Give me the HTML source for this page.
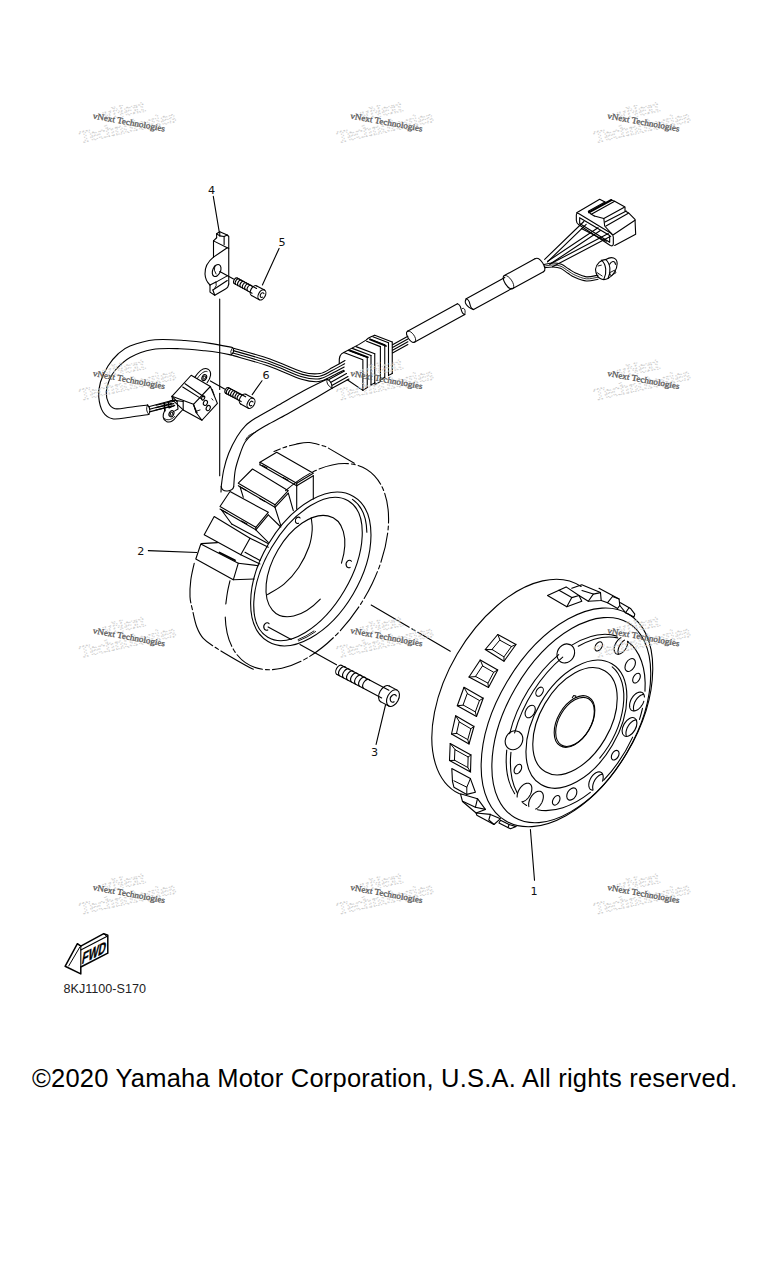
<!DOCTYPE html>
<html><head><meta charset="utf-8">
<style>
html,body{margin:0;padding:0;background:#fff;}
body{width:768px;height:1280px;position:relative;overflow:hidden;font-family:"Liberation Sans",sans-serif;}
#copy{position:absolute;left:32px;top:1060.9px;font-size:25.5px;line-height:34px;letter-spacing:0.22px;color:#000;white-space:nowrap;}
svg{position:absolute;left:0;top:0;}
</style></head><body>
<svg width="768" height="1280" viewBox="0 0 768 1280" fill="none" stroke="#000" stroke-width="1" stroke-linecap="round" stroke-linejoin="round">
<path d="M628.37,613.94A120.3,69.7 -59.3 0 1 626.88,752.96A120.3,69.7 -59.3 0 1 505.53,820.82A120.3,69.7 -59.3 0 1 507.02,681.8A120.3,69.7 -59.3 0 1 628.37,613.94Z" stroke-width="1.1" />
<path d="M581.12,586.54A120.3,69.7 -59.3 0 0 496.94,605.73A120.3,69.7 -59.3 0 0 434.52,712.08A120.3,69.7 -59.3 0 0 459.45,793.84" stroke-width="1.1" />
<path d="M627.99,622.7A112.7,64.4 -59.8 0 1 626.96,752.49A112.7,64.4 -59.8 0 1 514.61,817.5A112.7,64.4 -59.8 0 1 515.64,687.71A112.7,64.4 -59.8 0 1 627.99,622.7Z" stroke-width="1.1" />
<path d="M642.46,708.31A96.4,57.36 -59.6 0 1 639.5,719.38" stroke-width="1.1" />
<path d="M632.67,737.14A96.4,57.36 -59.6 0 1 603.7,780.14" stroke-width="1.1" />
<path d="M590.34,792.35A96.4,57.36 -59.6 0 1 537.51,809.71" stroke-width="1.1" />
<path d="M526.62,805.47A96.4,57.36 -59.6 0 1 522.64,802.68" stroke-width="1.1" />
<path d="M514.71,793.72A96.4,57.36 -59.6 0 1 506.75,750.09" stroke-width="1.1" />
<path d="M509.66,733.63A96.4,57.36 -59.6 0 1 558.71,654.56" stroke-width="1.1" />
<path d="M571.87,645.11A96.4,57.36 -59.6 0 1 617.05,636.1" stroke-width="1.1" />
<path d="M627.43,641.3A96.4,57.36 -59.6 0 1 644.97,691.12" stroke-width="1.1" />
<path d="M617.72,637.88A96.1,57.18 -59.6 0 0 578.27,646.27" stroke-width="1.1" />
<path d="M562.73,657.1A96.1,57.18 -59.6 0 0 514.62,732.88" stroke-width="1.1" />
<path d="M510.94,752.34A96.1,57.18 -59.6 0 0 517.11,792.83" stroke-width="1.1" />
<path d="M627.85,641.73 L627.84,642.14 L627.81,642.57 L627.77,643 L627.71,643.44 L627.63,643.88 L627.53,644.33 L627.41,644.78 L627.27,645.23 L627.12,645.69 L626.95,646.14 L626.77,646.59 L626.57,647.04 L626.35,647.49 L626.12,647.93 L625.88,648.36 L625.62,648.79 L625.35,649.2 L625.06,649.61 L624.77,650 L624.47,650.38 L624.15,650.75 L623.83,651.11 L623.5,651.45 L623.16,651.77 L622.82,652.07 L622.47,652.36 L622.12,652.63 L621.76,652.88 L621.41,653.11 L621.05,653.32 L620.69,653.5 L620.33,653.67 L619.98,653.81 L619.62,653.93 L619.27,654.03 L618.93,654.1 L618.59,654.15 L618.26,654.17 L617.93,654.18 L617.62,654.15 L617.31,654.11 L617.01,654.04 L616.73,653.95 L616.45,653.83 L616.19,653.69 L615.94,653.53 L615.71,653.35 L615.49,653.15 L615.28,652.92 L615.09,652.67 L614.92,652.41 L614.76,652.12 L614.63,651.82 L614.5,651.5 L614.4,651.17 L614.31,650.81 L614.25,650.45 L614.2,650.07 L614.17,649.68 L614.15,649.27 L614.16,648.86 L614.19,648.43 L614.23,648 L614.29,647.56 L614.37,647.12 L614.47,646.67 L614.59,646.22 L614.73,645.77 L614.88,645.31 L615.05,644.86 L615.23,644.41 L615.43,643.96 L615.65,643.51 L615.88,643.07 L616.12,642.64 L616.38,642.21 L616.65,641.8 L616.94,641.39 L617.23,641 L617.53,640.62 L617.85,640.25 L618.17,639.89 L618.5,639.55 L618.84,639.23 L619.18,638.93 L619.53,638.64 L619.88,638.37 L620.24,638.12 L620.59,637.89 L620.95,637.68" stroke-width="1.1" />
<path d="M618.51,654.1 L618.38,653.78 L618.28,653.44 L618.19,653.09 L618.13,652.72 L618.08,652.34 L618.05,651.95 L618.03,651.55 L618.04,651.13 L618.07,650.71 L618.11,650.28 L618.17,649.84 L618.26,649.4 L618.35,648.95 L618.47,648.5 L618.61,648.04 L618.76,647.59 L618.93,647.13 L619.11,646.68 L619.31,646.23 L619.53,645.79 L619.76,645.35 L620.01,644.92 L620.26,644.49 L620.54,644.08 L620.82,643.67 L621.11,643.28 L621.42,642.89 L621.73,642.52 L622.05,642.17 L622.38,641.83 L622.72,641.51 L623.06,641.2 L623.41,640.92 L623.76,640.65 L624.12,640.4 L624.47,640.17" stroke-width="1.1" />
<path d="M643.8,701.21 L643.64,701.7 L643.45,702.2 L643.25,702.69 L643.04,703.17 L642.8,703.66 L642.55,704.13 L642.29,704.6 L642.01,705.06 L641.71,705.51 L641.41,705.95 L641.09,706.38 L640.76,706.79 L640.42,707.19 L640.07,707.58 L639.71,707.95 L639.34,708.3 L638.97,708.63 L638.59,708.94 L638.21,709.23 L637.83,709.5 L637.44,709.75 L637.05,709.97 L636.66,710.18 L636.28,710.36 L635.89,710.51 L635.51,710.64 L635.13,710.74 L634.76,710.82 L634.39,710.88 L634.03,710.91 L633.68,710.91 L633.33,710.88 L633,710.83 L632.68,710.76 L632.37,710.66 L632.07,710.53 L631.79,710.38 L631.52,710.21 L631.26,710.01 L631.03,709.79 L630.8,709.54 L630.6,709.28 L630.41,708.99 L630.24,708.68 L630.09,708.35 L629.96,708.01 L629.84,707.64 L629.75,707.26 L629.68,706.86 L629.62,706.45 L629.59,706.03 L629.58,705.59 L629.58,705.14 L629.61,704.68 L629.66,704.21 L629.73,703.74 L629.82,703.26 L629.92,702.77 L630.05,702.28 L630.2,701.79 L630.36,701.3 L630.55,700.8 L630.75,700.31 L630.96,699.83 L631.2,699.34 L631.45,698.87 L631.71,698.4 L631.99,697.94 L632.29,697.49 L632.59,697.05 L632.91,696.62 L633.24,696.21 L633.58,695.81 L633.93,695.42 L634.29,695.05 L634.66,694.7 L635.03,694.37 L635.41,694.06 L635.79,693.77 L636.17,693.5 L636.56,693.25 L636.95,693.03 L637.34,692.82 L637.72,692.64 L638.11,692.49 L638.49,692.36 L638.87,692.26 L639.24,692.18 L639.61,692.12 L639.97,692.09 L640.32,692.09 L640.67,692.12 L641,692.17 L641.32,692.24 L641.63,692.34 L641.93,692.47 L642.21,692.62 L642.48,692.79 L642.74,692.99 L642.97,693.21 L643.2,693.46 L643.4,693.72 L643.59,694.01 L643.76,694.32 L643.91,694.65 L644.04,694.99 L644.16,695.36 L644.25,695.74 L644.32,696.14 L644.38,696.55 L644.41,696.97" stroke-width="1.1" />
<path d="M633.97,710.63 L633.84,710.28 L633.72,709.92 L633.63,709.54 L633.56,709.14 L633.5,708.73 L633.47,708.3 L633.46,707.87 L633.47,707.42 L633.49,706.96 L633.54,706.49 L633.61,706.01 L633.7,705.53 L633.81,705.05 L633.93,704.56 L634.08,704.07 L634.24,703.57 L634.43,703.08 L634.63,702.59 L634.85,702.1 L635.08,701.62 L635.33,701.15 L635.6,700.68 L635.88,700.22 L636.17,699.76 L636.48,699.32 L636.79,698.9 L637.12,698.48 L637.46,698.08 L637.81,697.7 L638.17,697.33 L638.54,696.98 L638.91,696.65 L639.29,696.34 L639.67,696.05 L640.05,695.78 L640.44,695.53 L640.83,695.3 L641.22,695.1 L641.61,694.92 L641.99,694.77 L642.37,694.64 L642.75,694.53 L643.13,694.45 L643.49,694.4" stroke-width="1.1" />
<path d="M634.71,718.12A10.3,6.13 -59.6 0 1 634.79,730.1A10.3,6.13 -59.6 0 1 624.29,735.88A10.3,6.13 -59.6 0 1 624.21,723.9A10.3,6.13 -59.6 0 1 634.71,718.12Z" stroke-width="1.1" />
<path d="M626.47,736.13 L626.34,735.78 L626.22,735.42 L626.13,735.04 L626.06,734.64 L626,734.23 L625.97,733.8 L625.96,733.37 L625.97,732.92 L625.99,732.46 L626.04,731.99 L626.11,731.51 L626.2,731.03 L626.31,730.55 L626.43,730.06 L626.58,729.57 L626.74,729.07 L626.93,728.58 L627.13,728.09 L627.35,727.6 L627.58,727.12 L627.83,726.65 L628.1,726.18 L628.38,725.72 L628.67,725.26 L628.98,724.82 L629.29,724.4 L629.62,723.98 L629.96,723.58 L630.31,723.2 L630.67,722.83 L631.04,722.48 L631.41,722.15 L631.79,721.84 L632.17,721.55 L632.55,721.28 L632.94,721.03 L633.33,720.8 L633.72,720.6 L634.11,720.42 L634.49,720.27 L634.87,720.14 L635.25,720.03 L635.63,719.95 L635.99,719.9" stroke-width="1.1" />
<path d="M592.77,790.13 L592.44,790.11 L592.12,790.06 L591.8,789.99 L591.5,789.89 L591.22,789.77 L590.94,789.63 L590.68,789.46 L590.43,789.26 L590.2,789.05 L589.98,788.81 L589.78,788.55 L589.6,788.27 L589.44,787.97 L589.29,787.65 L589.16,787.32 L589.05,786.96 L588.96,786.59 L588.89,786.21 L588.84,785.81 L588.81,785.4 L588.79,784.97 L588.8,784.53 L588.83,784.09 L588.87,783.63 L588.94,783.17 L589.03,782.71 L589.13,782.23 L589.25,781.76 L589.4,781.28 L589.56,780.8 L589.73,780.32 L589.93,779.85 L590.14,779.38 L590.37,778.91 L590.61,778.44 L590.87,777.99 L591.14,777.54 L591.43,777.1 L591.72,776.68 L592.03,776.26 L592.35,775.86 L592.68,775.47 L593.02,775.1 L593.37,774.74 L593.72,774.4 L594.09,774.08 L594.45,773.78 L594.82,773.49 L595.2,773.23 L595.57,772.99 L595.95,772.77 L596.33,772.58 L596.7,772.4 L597.08,772.25 L597.45,772.13 L597.82,772.02 L598.18,771.95 L598.54,771.9 L598.89,771.87 L599.23,771.87 L599.56,771.89 L599.88,771.94 L600.2,772.01 L600.5,772.11 L600.78,772.23 L601.06,772.37 L601.32,772.54 L601.57,772.74 L601.8,772.95 L602.02,773.19 L602.22,773.45 L602.4,773.73 L602.56,774.03 L602.71,774.35 L602.84,774.68 L602.95,775.04 L603.04,775.41 L603.11,775.79 L603.16,776.19 L603.19,776.6 L603.21,777.03 L603.2,777.47 L603.17,777.91 L603.13,778.37 L603.06,778.83 L602.97,779.29 L602.87,779.77 L602.75,780.24 L602.6,780.72 L602.44,781.2" stroke-width="1.1" />
<path d="M593.04,789.6 L592.93,789.24 L592.84,788.87 L592.77,788.49 L592.72,788.09 L592.69,787.67 L592.67,787.25 L592.68,786.81 L592.71,786.37 L592.76,785.91 L592.82,785.45 L592.91,784.98 L593.01,784.51 L593.13,784.03 L593.28,783.56 L593.44,783.08 L593.61,782.6 L593.81,782.13 L594.02,781.65 L594.25,781.18 L594.49,780.72 L594.75,780.27 L595.02,779.82 L595.31,779.38 L595.6,778.95 L595.91,778.54 L596.23,778.14 L596.56,777.75 L596.9,777.38 L597.25,777.02 L597.61,776.68 L597.97,776.36 L598.33,776.05 L598.7,775.77 L599.08,775.51 L599.45,775.27 L599.83,775.05 L600.21,774.85 L600.58,774.68 L600.96,774.53 L601.33,774.4 L601.7,774.3 L602.06,774.23 L602.42,774.17" stroke-width="1.1" />
<path d="M528.91,806.58 L528.82,806.21 L528.75,805.81 L528.69,805.4 L528.66,804.98 L528.65,804.55 L528.66,804.1 L528.68,803.65 L528.73,803.19 L528.8,802.72 L528.89,802.24 L528.99,801.76 L529.12,801.27 L529.26,800.79 L529.43,800.3 L529.61,799.81 L529.81,799.33 L530.02,798.84 L530.25,798.37 L530.5,797.89 L530.77,797.43 L531.04,796.97 L531.33,796.53 L531.64,796.09 L531.95,795.67 L532.28,795.26 L532.62,794.86 L532.96,794.48 L533.32,794.12 L533.68,793.77 L534.05,793.44 L534.42,793.13 L534.8,792.84 L535.18,792.58 L535.56,792.33 L535.95,792.11 L536.33,791.91 L536.72,791.73 L537.1,791.58 L537.48,791.45 L537.85,791.35 L538.22,791.27 L538.59,791.21 L538.94,791.19 L539.29,791.18 L539.63,791.21 L539.96,791.26 L540.28,791.33 L540.59,791.43 L540.88,791.55 L541.16,791.7 L541.43,791.88 L541.68,792.07 L541.92,792.29 L542.14,792.53 L542.34,792.8 L542.53,793.08 L542.69,793.39 L542.84,793.71 L542.98,794.06 L543.09,794.42 L543.18,794.79 L543.25,795.19 L543.31,795.6 L543.34,796.02 L543.35,796.45 L543.34,796.9 L543.32,797.35 L543.27,797.81 L543.2,798.28 L543.11,798.76 L543.01,799.24 L542.88,799.73 L542.74,800.21 L542.57,800.7 L542.39,801.19 L542.19,801.67 L541.98,802.16 L541.75,802.63 L541.5,803.11 L541.23,803.57 L540.96,804.03 L540.67,804.47 L540.36,804.91 L540.05,805.33 L539.72,805.74 L539.38,806.14 L539.04,806.52 L538.68,806.88 L538.32,807.23 L537.95,807.56 L537.58,807.87 L537.2,808.16 L536.82,808.42 L536.44,808.67 L536.05,808.89 L535.67,809.09" stroke-width="1.1" />
<path d="M517.16,796.98 L517.15,796.55 L517.16,796.1 L517.18,795.65 L517.23,795.19 L517.3,794.72 L517.39,794.24 L517.49,793.76 L517.62,793.27 L517.76,792.79 L517.93,792.3 L518.11,791.81 L518.31,791.33 L518.52,790.84 L518.75,790.37 L519,789.89 L519.27,789.43 L519.54,788.97 L519.83,788.53 L520.14,788.09 L520.45,787.67 L520.78,787.26 L521.12,786.86 L521.46,786.48 L521.82,786.12 L522.18,785.77 L522.55,785.44 L522.92,785.13 L523.3,784.84 L523.68,784.58 L524.06,784.33 L524.45,784.11 L524.83,783.91 L525.22,783.73 L525.6,783.58 L525.98,783.45 L526.35,783.35 L526.72,783.27 L527.09,783.21 L527.44,783.19 L527.79,783.18 L528.13,783.21 L528.46,783.26 L528.78,783.33 L529.09,783.43 L529.38,783.55 L529.66,783.7 L529.93,783.88 L530.18,784.07 L530.42,784.29 L530.64,784.53 L530.84,784.8 L531.03,785.08 L531.19,785.39 L531.34,785.71 L531.48,786.06 L531.59,786.42 L531.68,786.79 L531.75,787.19 L531.81,787.6 L531.84,788.02 L531.85,788.45 L531.84,788.9 L531.82,789.35 L531.77,789.81 L531.7,790.28 L531.61,790.76 L531.51,791.24 L531.38,791.73 L531.24,792.21 L531.07,792.7 L530.89,793.19 L530.69,793.67 L530.48,794.16 L530.25,794.63 L530,795.11 L529.73,795.57 L529.46,796.03 L529.17,796.47 L528.86,796.91 L528.55,797.33 L528.22,797.74 L527.88,798.14 L527.54,798.52 L527.18,798.88 L526.82,799.23 L526.45,799.56 L526.08,799.87 L525.7,800.16 L525.32,800.42 L524.94,800.67 L524.55,800.89 L524.17,801.09 L523.78,801.27 L523.4,801.42 L523.02,801.55 L522.65,801.65 L522.28,801.73 L521.91,801.79" stroke-width="1.1" />
<path d="M570.79,644.89 C571.29,645.43 573.14,646.84 573.77,648.17 C574.41,649.5 574.73,651.27 574.62,652.85 C574.5,654.44 573.93,656.26 573.1,657.68 C572.26,659.1 570.95,660.49 569.62,661.36 C568.29,662.24 566.59,662.82 565.12,662.91 C563.65,663 562.02,662.63 560.81,661.91 C559.59,661.2 558.46,659.96 557.83,658.63 C557.19,657.3 556.87,655.53 556.98,653.95 C557.1,652.36 557.67,650.54 558.5,649.12 C559.34,647.7 560.65,646.31 561.98,645.44 C563.31,644.56 565.01,643.98 566.48,643.89 C567.95,643.8 570.07,644.72 570.79,644.89Z" stroke-width="1.1" />
<path d="M518.99,731.69 C519.49,732.23 521.34,733.64 521.97,734.97 C522.61,736.3 522.93,738.07 522.82,739.65 C522.7,741.24 522.13,743.06 521.3,744.48 C520.46,745.9 519.15,747.29 517.82,748.16 C516.49,749.04 514.79,749.62 513.32,749.71 C511.85,749.8 510.22,749.43 509.01,748.71 C507.79,748 506.66,746.76 506.03,745.43 C505.39,744.1 505.07,742.33 505.18,740.75 C505.3,739.16 505.87,737.34 506.7,735.92 C507.54,734.5 508.85,733.11 510.18,732.24 C511.51,731.36 513.21,730.78 514.68,730.69 C516.15,730.6 518.27,731.52 518.99,731.69Z" stroke-width="1.1" />
<path d="M601.13,642.09A5,3.2 -59.6 0 1 601.36,648.02A5,3.2 -59.6 0 1 596.07,650.71A5,3.2 -59.6 0 1 595.84,644.78A5,3.2 -59.6 0 1 601.13,642.09Z" stroke-width="1.1" />
<path d="M633.74,658.96A7,4.5 -59.6 0 1 634.08,667.28A7,4.5 -59.6 0 1 626.66,671.04A7,4.5 -59.6 0 1 626.32,662.72A7,4.5 -59.6 0 1 633.74,658.96Z" stroke-width="1.1" />
<path d="M639.18,673.53A5.3,3.2 -59.6 0 1 639.26,679.72A5.3,3.2 -59.6 0 1 633.82,682.67A5.3,3.2 -59.6 0 1 633.74,676.48A5.3,3.2 -59.6 0 1 639.18,673.53Z" stroke-width="1.1" />
<path d="M542.13,687.39A5,3.2 -59.6 0 1 542.36,693.32A5,3.2 -59.6 0 1 537.07,696.01A5,3.2 -59.6 0 1 536.84,690.08A5,3.2 -59.6 0 1 542.13,687.39Z" stroke-width="1.1" />
<path d="M533.64,705.63A6.8,4.4 -59.6 0 1 534,713.73A6.8,4.4 -59.6 0 1 526.76,717.37A6.8,4.4 -59.6 0 1 526.4,709.27A6.8,4.4 -59.6 0 1 533.64,705.63Z" stroke-width="1.1" />
<path d="M617.83,750.71A5.2,3.3 -59.6 0 1 618.05,756.87A5.2,3.3 -59.6 0 1 612.57,759.69A5.2,3.3 -59.6 0 1 612.35,753.53A5.2,3.3 -59.6 0 1 617.83,750.71Z" stroke-width="1.1" />
<path d="M520.53,764.51A5.2,3.2 -59.6 0 1 520.66,770.62A5.2,3.2 -59.6 0 1 515.27,773.49A5.2,3.2 -59.6 0 1 515.14,767.38A5.2,3.2 -59.6 0 1 520.53,764.51Z" stroke-width="1.1" />
<path d="M575.14,788.31A6.6,4.4 -59.6 0 1 575.6,796.23A6.6,4.4 -59.6 0 1 568.46,799.69A6.6,4.4 -59.6 0 1 568,791.77A6.6,4.4 -59.6 0 1 575.14,788.31Z" stroke-width="1.1" />
<path d="M558.83,795.81A5.2,3.2 -59.6 0 1 558.96,801.92A5.2,3.2 -59.6 0 1 553.57,804.79A5.2,3.2 -59.6 0 1 553.44,798.68A5.2,3.2 -59.6 0 1 558.83,795.81Z" stroke-width="1.1" />
<path d="M611.82,663.82A70,41.65 -59.6 0 1 612.32,745.28A70,41.65 -59.6 0 1 540.98,784.58A70,41.65 -59.6 0 1 540.48,703.12A70,41.65 -59.6 0 1 611.82,663.82Z" stroke-width="1.1" />
<path d="M612.21,666.82A67.8,40.34 -59.6 0 1 623.18,706.48A67.8,40.34 -59.6 0 1 599.73,758.15" stroke-width="1.1" />
<path d="M604.65,670.71A58.6,34.87 -59.6 0 1 605.07,738.89A58.6,34.87 -59.6 0 1 545.35,771.79A58.6,34.87 -59.6 0 1 544.93,703.61A58.6,34.87 -59.6 0 1 604.65,670.71Z" stroke-width="1.1" />
<path d="M588.77,697.18A28.2,16.78 -59.6 0 1 588.97,729.99A28.2,16.78 -59.6 0 1 560.23,745.82A28.2,16.78 -59.6 0 1 560.03,713.01A28.2,16.78 -59.6 0 1 588.77,697.18Z" stroke-width="1.1" />
<path d="M588.56,698.78A26.8,15.95 -59.6 0 1 588.75,729.97A26.8,15.95 -59.6 0 1 561.44,745.02A26.8,15.95 -59.6 0 1 561.25,713.83A26.8,15.95 -59.6 0 1 588.56,698.78Z" stroke-width="1.1" />
<path d="M572.3,697.8 L573.7,695.5 L575.9,696 L575.6,697.3" stroke-width="1.1" />
<path d="M497.75,634.5 L516,644.5 L504,661.25 L485.25,649.5 Z" stroke-width="1.1" />
<path d="M500.09,640.32 L511.4,646.52 L503.96,656.9 L492.34,649.62 Z" stroke-width="1" />
<path d="M497.75,634.5 L500.09,640.32" stroke-width="1" />
<path d="M516,644.5 L511.4,646.52" stroke-width="1" />
<path d="M504,661.25 L503.96,656.9" stroke-width="1" />
<path d="M485.25,649.5 L492.34,649.62" stroke-width="1" />
<path d="M480.25,660 L497.75,670 L488.5,687.5 L469,677 Z" stroke-width="1.1" />
<path d="M482.83,666.08 L493.68,672.28 L487.94,683.13 L475.85,676.62 Z" stroke-width="1" />
<path d="M480.25,660 L482.83,666.08" stroke-width="1" />
<path d="M497.75,670 L493.68,672.28" stroke-width="1" />
<path d="M488.5,687.5 L487.94,683.13" stroke-width="1" />
<path d="M469,677 L475.85,676.62" stroke-width="1" />
<path d="M464,687.3 L483.2,698.2 L476.5,716.5 L457.3,705.7 Z" stroke-width="1.1" />
<path d="M467.57,693.76 L479.48,700.52 L475.32,711.86 L463.42,705.17 Z" stroke-width="1" />
<path d="M464,687.3 L467.57,693.76" stroke-width="1" />
<path d="M483.2,698.2 L479.48,700.52" stroke-width="1" />
<path d="M476.5,716.5 L475.32,711.86" stroke-width="1" />
<path d="M457.3,705.7 L463.42,705.17" stroke-width="1" />
<path d="M455.7,715.7 L474,726.5 L469,744 L451.5,734 Z" stroke-width="1.1" />
<path d="M459.5,722.05 L470.85,728.75 L467.75,739.6 L456.9,733.4 Z" stroke-width="1" />
<path d="M455.7,715.7 L459.5,722.05" stroke-width="1" />
<path d="M474,726.5 L470.85,728.75" stroke-width="1" />
<path d="M469,744 L467.75,739.6" stroke-width="1" />
<path d="M451.5,734 L456.9,733.4" stroke-width="1" />
<path d="M450.2,743.5 L471,755 L470.5,772 L449.5,760.5 Z" stroke-width="1.1" />
<path d="M455.24,749.81 L468.13,756.94 L467.82,767.49 L454.8,760.36 Z" stroke-width="1" />
<path d="M450.2,743.5 L455.24,749.81" stroke-width="1" />
<path d="M471,755 L468.13,756.94" stroke-width="1" />
<path d="M470.5,772 L467.82,767.49" stroke-width="1" />
<path d="M449.5,760.5 L454.8,760.36" stroke-width="1" />
<path d="M451.8,768.6 L470.4,778.6 L475.4,792.2 L466.8,794.4 L453.9,787.2 L452.5,781.5 Z" stroke-width="1.1" />
<path d="M453.9,780.8 L466.8,787.2 L470.4,778.6" stroke-width="1" />
<path d="M466.8,787.2 L466.8,794.4" stroke-width="1" />
<path d="M547.5,595.5 L566.1,586.9 L579,595.5 L581.8,601.2 L566.8,606.7 Z" stroke-width="1.1" />
<path d="M559,590.2 L571.8,597.6 L579,595.5" stroke-width="1.1" />
<path d="M571.8,597.6 L566.8,606.7" stroke-width="1.1" />
<path d="M571.8,588.3 L581.8,584.7 L600.5,592.6 L601.2,600.5 L588.3,601.2 L579,595.5" stroke-width="1.1" />
<path d="M588.3,601.2 L593.3,594.1 L600.5,592.6" stroke-width="1.1" />
<path d="M582,590.5 L593.3,594.1" stroke-width="1.1" />
<path d="M599,588.3 L619.1,599.1 L619.8,605.5 L617.6,608.4 L607.6,602.7 L601.2,600.5" stroke-width="1.1" />
<path d="M607.6,602.7 L612.5,596.5 L619.1,599.1" stroke-width="1.1" />
<path d="M620.5,602.7 L630.5,608.4 L634.8,614.1 L634,617 L625.5,612.7 L619.8,605.5" stroke-width="1.1" />
<path d="M625.5,612.7 L629,607.8" stroke-width="1.1" />
<path d="M460.4,793.7 L477.5,798.7 L485.4,809.4 L476.1,813 L462.5,801.5 Z" stroke-width="1.1" />
<path d="M477.5,798.7 L475.4,807.3 L485.4,809.4" stroke-width="1.1" />
<path d="M475.4,807.3 L463.2,801.5" stroke-width="1.1" />
<path d="M476.1,813 L490.4,814.4 L500.5,818.7 L494,824.5 L476.8,815.2 Z" stroke-width="1.1" />
<path d="M490.4,814.4 L488.8,820 L494,824.5" stroke-width="1.1" />
<path d="M500.5,820.2 L509.1,824.5 L516.2,826.6 L510.5,828.8 L499,823 Z" stroke-width="1.1" />
<path d="M509.1,824.5 L508,827.6" stroke-width="1.1" />
<path d="M285.58,490.71A114.1,65.5 -58.5 0 1 374.52,475.87A114.1,65.5 -58.5 0 1 372.25,583.41A114.1,65.5 -58.5 0 1 281.83,668.28A114.1,65.5 -58.5 0 1 225.23,616" stroke-width="1.1" stroke-dasharray="30 3 4 3"/>
<path d="M354.3,463.3 L326,446.7  C323.22,446 314.3,442.92 309.3,442.5 C304.3,442.08 300.22,443.37 296,444.2 C291.78,445.03 287.67,446.28 284,447.5 C280.33,448.72 275.67,450.83 274,451.5" stroke-width="1.1" stroke-dasharray="30 3 4 3"/>
<path d="M194.2,563.3 C193.63,566.08 191.5,574.43 190.8,580 C190.1,585.57 189.72,591.7 190,596.7 C190.28,601.7 191.38,605 192.5,610 C193.62,615 194.9,621.98 196.7,626.7 C198.5,631.42 199.97,634.7 203.3,638.3 C206.63,641.9 209.75,643.85 216.7,648.3 C223.65,652.75 238.9,661.52 245,665 C251.1,668.48 251.92,668.5 253.3,669.2" stroke-width="1.1" stroke-dasharray="40 3 4 3"/>
<path d="M353.53,496.45A84.2,49.2 -59.5 0 1 353.19,593.97A84.2,49.2 -59.5 0 1 268.07,641.55A84.2,49.2 -59.5 0 1 268.41,544.03A84.2,49.2 -59.5 0 1 353.53,496.45Z" stroke-width="1.1" />
<path d="M348.2,500.76A79.2,42.3 -59.5 0 1 344.45,590.47A79.2,42.3 -59.5 0 1 267.8,637.24A79.2,42.3 -59.5 0 1 271.55,547.53A79.2,42.3 -59.5 0 1 348.2,500.76Z" stroke-width="1.1" />
<path d="M352.47,499.37A81.8,45.8 -59.5 0 1 366.86,532.18" stroke-width="1.1" />
<path d="M315.63,631.56A82.5,47 -59.5 0 1 298.43,640.91" stroke-width="0.9" />
<path d="M313.9,631.02A81.2,45.6 -59.5 0 1 298.08,639.59" stroke-width="0.9" />
<path d="M320.29,599.09A55.7,31.9 -59.5 0 1 272.4,610.12A55.7,31.9 -59.5 0 1 277.91,549.91A55.7,31.9 -59.5 0 1 327.91,515.9A55.7,31.9 -59.5 0 1 341.47,563.13" stroke-width="1.1" />
<path d="M311.2,517.5 C311.37,519.58 312.57,525.13 312.2,530 C311.83,534.87 311.25,540.45 309,546.7 C306.75,552.95 302.87,561.25 298.7,567.5 C294.53,573.75 289.22,579.68 284,584.2 C278.78,588.72 270.17,592.87 267.4,594.6" stroke-width="1.1" />
<path d="M299.42,517.26 a2.6,3.25 0 1 0 0.3,5.46" stroke-width="1.1" transform="rotate(20 297.6 519.6)"/>
<path d="M350.8,560.6 a3,3.75 0 1 0 0.3,6.3" stroke-width="1.1" transform="rotate(15 348.7 563.3)"/>
<path d="M268.5,623.1 a3,3.75 0 1 0 0.3,6.3" stroke-width="1.1" transform="rotate(15 266.4 625.8)"/>
<path d="M260,462.3 L276.7,452.3 L313.3,473.2 L296.7,483.2 Z" stroke-width="1.1" />
<path d="M260,464.8 L296.7,485.7 L313.3,475.7" stroke-width="1.1" />
<path d="M296.7,483.2 L296.7,485.7" stroke-width="1.1" />
<path d="M296.7,485.7 L296.7,509" stroke-width="1.1" />
<path d="M313.3,475.7 L313.3,499" stroke-width="1.1" />
<path d="M260,462.3 L260,464.8" stroke-width="1.1" />
<path d="M262.5,465.5 L267,468" stroke-width="1.1" />
<path d="M283,477.5 L288,480.3" stroke-width="1.1" />
<path d="M238.3,483.2 L252.5,469 L288.3,490.7 L275,504.8 Z" stroke-width="1.1" />
<path d="M238.3,485.7 L275,507.3 L288.3,493.2" stroke-width="1.1" />
<path d="M275,504.8 L275,507.3" stroke-width="1.1" />
<path d="M275,507.3 L280.8,525.7" stroke-width="1.1" />
<path d="M288.3,493.2 L293.3,510.7" stroke-width="1.1" />
<path d="M240,486.5 L243.3,497.3" stroke-width="1.1" />
<path d="M241,487.5 L246,490.3" stroke-width="1.1" />
<path d="M259.5,498.5 L265,501.5" stroke-width="1.1" />
<path d="M220,506.5 L230,491.5 L268.3,512.3 L255.8,527.3 Z" stroke-width="1.1" />
<path d="M220,509 L255.8,529.8 L268.3,514.8" stroke-width="1.1" />
<path d="M255.8,527.3 L255.8,529.8" stroke-width="1.1" />
<path d="M255.8,529.8 L268.3,542.3" stroke-width="1.1" />
<path d="M268.3,514.8 L280.8,527" stroke-width="1.1" />
<path d="M221.5,510 L231.7,524" stroke-width="1.1" />
<path d="M231.7,524 L268,543.5" stroke-width="1.1" />
<path d="M222,510.3 L227,513" stroke-width="1.1" />
<path d="M241.5,521 L247,524" stroke-width="1.1" />
<path d="M204.2,534.8 L214.2,516.5 L250,538.2 L240.8,554.8 Z" stroke-width="1.1" />
<path d="M250,538.2 L268.3,547.3" stroke-width="1.1" />
<path d="M240.8,554.8 L259.9,564" stroke-width="1.1" />
<path d="M245,552.3 L260,560.5" stroke-width="1.1" />
<path d="M195.8,559 L200.8,544 L238.3,563.2 L233.3,579.8 Z" stroke-width="1.1" />
<path d="M238.3,563.2 L258.3,565.7" stroke-width="1.1" />
<path d="M233.3,579.8 L254.2,579" stroke-width="1.1" />
<path d="M201.3,543.6 L217.5,542.6" stroke-width="1.1" />
<path d="M219.5,552.5 L235,560.3" stroke-width="1.8" />
<path d="M230,580.7 C229.58,582.58 228.2,588.12 227.5,592 C226.8,595.88 226.08,602 225.8,604" stroke-width="1.1" stroke-dasharray="30 3 4 3"/>
<path d="M221.2,486.7 C221.62,483.92 222.45,475.57 223.7,470 C224.95,464.43 226.48,458.85 228.7,453.3 C230.92,447.75 234.23,441.28 237,436.7 C239.77,432.12 242.25,428.87 245.3,425.8 C248.35,422.73 249.73,421.77 255.3,418.3 C260.87,414.83 270.63,409.58 278.7,405 C286.77,400.42 295.65,395.1 303.7,390.8 C311.75,386.5 323.12,381.13 327,379.2" stroke-width="1.1" />
<path d="M233.7,486.7 C233.97,483.92 234.2,475.57 235.3,470 C236.4,464.43 238.63,458.02 240.3,453.3 C241.97,448.58 243.07,445.03 245.3,441.7 C247.53,438.37 250.08,436.08 253.7,433.3 C257.32,430.52 261.45,428.18 267,425 C272.55,421.82 279.5,418.37 287,414.2 C294.5,410.03 304.5,404.32 312,400 C319.5,395.68 328.67,390.25 332,388.3" stroke-width="1.1" />
<path d="M245.5,440 C246.08,439.25 247.33,436.8 249,435.5 C250.67,434.2 254.42,432.75 255.5,432.2" stroke-width="0.9" />
<path d="M221.2,486.7 Q222,491.5 227.5,491 Q233,490.5 233.7,486.7" stroke-width="1.1" />
<path d="M221.2,486.7 L221,492" stroke-width="1.1" />
<path d="M327,379.2 Q332.5,381.5 332,388.3" stroke-width="1.1" />
<path d="M327,379.2 Q325.5,384.5 332,388.3" stroke-width="0.9" />
<path d="M329,379.5 L344.5,371" stroke-width="1.1" />
<path d="M331,382.3 L346.5,373.6" stroke-width="1.1" />
<path d="M332.3,385.2 L348,376.5" stroke-width="1.1" />
<path d="M332.5,388 L349,379" stroke-width="1.1" />
<path d="M147.5,405 C144.58,405.38 135.42,406.68 130,407.3 C124.58,407.93 118.58,409.47 115,408.75 C111.42,408.03 109.96,405.79 108.5,403 C107.04,400.21 106.17,395.67 106.25,392 C106.33,388.33 107.54,384.58 109,381 C110.46,377.42 111.5,374.42 115,370.5 C118.5,366.58 123.75,361 130,357.5 C136.25,354 144.17,350.96 152.5,349.5 C160.83,348.04 171.25,348.53 180,348.75 C188.75,348.97 198.33,350.12 205,350.8 C211.67,351.48 215.62,352.1 220,352.8 C224.38,353.5 229.38,354.63 231.25,355" stroke-width="1.1" />
<path d="M148.75,414.5 C145.62,414.95 136.04,416.49 130,417.2 C123.96,417.91 117,419.62 112.5,418.75 C108,417.88 105.29,415.62 103,412 C100.71,408.38 99.17,402 98.75,397 C98.33,392 98.96,387.17 100.5,382 C102.04,376.83 105.08,370.67 108,366 C110.92,361.33 114.33,357.33 118,354 C121.67,350.67 123.83,348.37 130,346 C136.17,343.63 145.83,340.72 155,339.8 C164.17,338.88 175.83,339.9 185,340.5 C194.17,341.1 202.08,342.23 210,343.4 C217.92,344.57 228.75,346.82 232.5,347.5" stroke-width="1.1" />
<path d="M147.5,405 Q151.5,409 148.75,414.5" stroke-width="1.1" />
<path d="M147.5,405 Q145,410 148.75,414.5" stroke-width="0.9" />
<path d="M232.5,347.5 Q235.5,351 231.25,355" stroke-width="1.1" />
<path d="M232.5,347.5 Q229.5,351.5 231.25,355" stroke-width="0.9" />
<path d="M233.5,348.2 C239.58,350 258.5,355.03 270,359 C281.5,362.97 294.17,369.58 302.5,372 C310.83,374.42 315,374.25 320,373.5 C325,372.75 328.33,369.67 332.5,367.5 C336.67,365.33 342.92,361.67 345,360.5" stroke-width="1.1" />
<path d="M233.2,350.6 C239.28,352.4 258.2,357.43 269.7,361.4 C281.2,365.37 293.87,371.94 302.2,374.4 C310.53,376.86 314.68,376.84 319.66,376.19 C324.65,375.53 327.97,372.55 332.13,370.48 C336.28,368.41 342.51,364.88 344.59,363.76" stroke-width="1.1" />
<path d="M232.9,353 C238.98,354.8 257.9,359.83 269.4,363.8 C280.9,367.77 293.58,374.29 301.9,376.8 C310.22,379.31 314.35,379.43 319.33,378.88 C324.3,378.32 327.61,375.43 331.76,373.45 C335.9,371.48 342.11,368.1 344.18,367.03" stroke-width="1.1" />
<path d="M232.6,355.4 C238.68,357.2 257.6,362.23 269.1,366.2 C280.6,370.17 293.28,376.64 301.6,379.2 C309.92,381.76 314.03,382.03 318.99,381.56 C323.96,381.1 327.25,378.31 331.38,376.43 C335.51,374.55 341.71,371.31 343.78,370.29" stroke-width="1.1" />
<path d="M149.5,406.5 L172,400.5" stroke-width="1.1" />
<path d="M149.5,409.2 L172,403.2" stroke-width="1.1" />
<path d="M149.5,411.9 L172,405.9" stroke-width="1.1" />
<path d="M339.25,363.5 Q338.5,354.12 343.75,352.5 L362.88,359.75 L362.88,390.38 L347.25,379.75" stroke-width="1.1" />
<path d="M367.25,357.5 L367.25,387.5" stroke-width="1.1" />
<path d="M367.25,357.5 L348.5,350.38" stroke-width="1.1" />
<path d="M371,355.5 L371,385" stroke-width="1.1" />
<path d="M371,355.5 L352.25,348.38" stroke-width="1.1" />
<path d="M374.75,353.75 L374.75,382.88" stroke-width="1.1" />
<path d="M374.75,353.75 L356,346.62" stroke-width="1.1" />
<path d="M362.88,390.38 L367.25,387.5" stroke-width="1.1" />
<path d="M371,385 L374.75,382.88" stroke-width="1.1" />
<path d="M380.38,346.62 L380.38,380" stroke-width="1.1" />
<path d="M380.38,346.62 L366.62,341.25" stroke-width="1.1" />
<path d="M384.75,344.75 L384.75,377.25" stroke-width="1.1" />
<path d="M384.75,344.75 L370,339" stroke-width="1.1" />
<path d="M388.5,342.75 L388.5,375.38" stroke-width="1.1" />
<path d="M388.5,342.75 L372.88,336.75" stroke-width="1.1" />
<path d="M392.25,342 L392.25,373.5" stroke-width="1.1" />
<path d="M392.25,342 L374.75,335.25" stroke-width="1.1" />
<path d="M380.38,380 L384.75,377.25" stroke-width="1.1" />
<path d="M388.5,375.38 L392.25,373.5" stroke-width="1.1" />
<path d="M374.75,382.88 L374.75,384.75 L380.38,381.62 L380.38,380" stroke-width="1.1" />
<path d="M343.75,352.5 L359.12,344.38 L366,340.12 Q367.88,338 371,336.75 L374.75,335.25" stroke-width="1.1" />
<path d="M350.38,350.62 L367.88,357.25" stroke-width="1.8" />
<path d="M370,339.5 L386,346" stroke-width="1.8" />
<path d="M392.5,344.75 L407.88,336.25" stroke-width="1.1" />
<path d="M392.5,347.5 L407.88,339" stroke-width="1.1" />
<path d="M392.5,350.25 L407.88,341.75" stroke-width="1.1" />
<path d="M392.5,353 L407.88,344.5" stroke-width="1.1" />
<path d="M407.5,331.25 L457.43,303.78" stroke-width="1.1" />
<path d="M414.82,342.06 L464.75,314.59" stroke-width="1.1" />
<path d="M407.5,331.25 C403.77,333.3 411.09,344.11 414.82,342.06" stroke-width="1.1" />
<path d="M407.5,331.25 C411.23,329.2 418.55,340.01 414.82,342.06" stroke-width="0.9" />
<path d="M457.43,303.78 C462.86,305.35 459.32,313.01 464.75,314.59" stroke-width="1.1" />
<path d="M464.75,314.59 C465.93,310.51 464.59,307.25 462.4,308.46" stroke-width="0.9" />
<path d="M466.25,298.75 L504.79,277.54" stroke-width="1.1" />
<path d="M473.57,309.56 L512.11,288.35" stroke-width="1.1" />
<path d="M466.25,298.75 C471.68,300.33 468.14,307.98 473.57,309.56" stroke-width="1.1" />
<path d="M466.25,298.75 C463.71,302.43 466.3,306.71 473.57,309.56" stroke-width="1.1" />
<path d="M504.3,275.6 L534.96,258.73" stroke-width="1.1" />
<path d="M512.82,288.6 L543.48,271.73" stroke-width="1.1" />
<path d="M504.3,275.6 C500.11,277.91 508.63,290.91 512.82,288.6" stroke-width="1.1" />
<path d="M504.3,275.6 C508.49,273.29 517.02,286.29 512.82,288.6" stroke-width="0.9" />
<path d="M534.96,258.73 C539.85,256.04 548.38,269.04 543.48,271.73" stroke-width="1.1" />
<g transform="translate(234.9,280.4) rotate(28.24)" stroke-width="1.1"><path d="M0.98,-3.15 L17.5,-3.15 M0.98,3.15 L17.5,3.15"/><path d="M0.98,-3.15 A1.95,3.15 0 0 0 0.98,3.15"/><path d="M3.57,-3.15 A1.95,3.15 0 0 0 2.5,3.15"/><path d="M6.26,-3.15 A1.95,3.15 0 0 0 5.19,3.15"/><path d="M8.96,-3.15 A1.95,3.15 0 0 0 7.88,3.15"/><path d="M11.65,-3.15 A1.95,3.15 0 0 0 10.57,3.15"/><path d="M14.34,-3.15 A1.95,3.15 0 0 0 13.27,3.15"/><path d="M17.03,-3.15 A1.95,3.15 0 0 0 15.96,3.15"/><path d="M17.5,-3.15 L22.87,-3.15 M17.5,3.15 L21.17,3.15"/><path d="M21.85,-5.5 A3.41,5.5 0 0 0 21.85,5.5"/><path d="M21.85,-5.5 L30.65,-5.5 M21.85,5.5 L30.65,5.5"/><ellipse cx="30.65" cy="0" rx="3.41" ry="5.5"/><path d="M31.86,-2.09 A1.76,2.48 0 1 0 32.3,1.65"/></g>
<g transform="translate(226.2,390) rotate(28.2)" stroke-width="1.1"><path d="M0.98,-3.15 L16,-3.15 M0.98,3.15 L16,3.15"/><path d="M0.98,-3.15 A1.95,3.15 0 0 0 0.98,3.15"/><path d="M3.34,-3.15 A1.95,3.15 0 0 0 2.27,3.15"/><path d="M5.8,-3.15 A1.95,3.15 0 0 0 4.73,3.15"/><path d="M8.26,-3.15 A1.95,3.15 0 0 0 7.19,3.15"/><path d="M10.73,-3.15 A1.95,3.15 0 0 0 9.65,3.15"/><path d="M13.19,-3.15 A1.95,3.15 0 0 0 12.11,3.15"/><path d="M15.65,-3.15 A1.95,3.15 0 0 0 14.57,3.15"/><path d="M16,-3.15 L20.36,-3.15 M16,3.15 L18.66,3.15"/><path d="M19.34,-5.5 A3.41,5.5 0 0 0 19.34,5.5"/><path d="M19.34,-5.5 L28.14,-5.5 M19.34,5.5 L28.14,5.5"/><ellipse cx="28.14" cy="0" rx="3.41" ry="5.5"/><path d="M29.35,-2.09 A1.76,2.48 0 1 0 29.79,1.65"/></g>
<g transform="translate(338,669.2) rotate(27.72)" stroke-width="1.1"><path d="M1.58,-5.1 L34,-5.1 M1.58,5.1 L34,5.1"/><path d="M1.58,-5.1 A3.16,5.1 0 0 0 1.58,5.1"/><path d="M5.96,-5.1 A3.16,5.1 0 0 0 4.22,5.1"/><path d="M10.49,-5.1 A3.16,5.1 0 0 0 8.75,5.1"/><path d="M15.02,-5.1 A3.16,5.1 0 0 0 13.28,5.1"/><path d="M19.56,-5.1 A3.16,5.1 0 0 0 17.82,5.1"/><path d="M24.09,-5.1 A3.16,5.1 0 0 0 22.35,5.1"/><path d="M28.62,-5.1 A3.16,5.1 0 0 0 26.88,5.1"/><path d="M33.16,-5.1 A3.16,5.1 0 0 0 31.42,5.1"/><path d="M34,-5.1 L54.8,-5.1 M34,5.1 L52.01,5.1"/><path d="M53.13,-9 A5.58,9 0 0 0 53.13,9"/><path d="M53.13,-9 L62.13,-9 M53.13,9 L62.13,9"/><ellipse cx="62.13" cy="0" rx="5.58" ry="9"/><path d="M64.11,-3.42 A2.88,4.05 0 1 0 64.83,2.7"/></g>
<path d="M219.75,271.5 L233.5,279" stroke-width="1.1" />
<path d="M210.4,380.9 L224.6,388.9" stroke-width="1.1" />
<path d="M268.1,626.9 L291.25,639.4" stroke-width="1.1" />
<path d="M300,644.4 L336.5,664.8" stroke-width="1.1" />
<path d="M219.7,299 L219.7,389.4" stroke-width="1.1" />
<path d="M219.7,393.3 L219.7,475.8" stroke-width="1.1" />
<path d="M371.2,605 L450.3,651.2" stroke-width="1.1" stroke-dasharray="44 3 4 3"/>
<path d="M216.62,237.75 L216.62,233.75 L219.75,231.75 L227.25,235 L228.75,236.5 L228.75,284" stroke-width="1.1" />
<path d="M228.75,284 Q228.25,287.75 225.5,289 L214.75,295.25 L210,292.12 L210,285" stroke-width="1.1" />
<path d="M216.62,233.75 L219.75,235.88 L224.12,236.5 L227.25,235" stroke-width="1.1" />
<path d="M219.75,235.88 L219.75,231.75" stroke-width="1.1" />
<path d="M224.12,236.5 L224.12,244.62" stroke-width="1.1" />
<path d="M216.62,237.75 L213.5,240.88" stroke-width="1.1" />
<path d="M213.5,240.88 L213.5,257.12" stroke-width="1.1" />
<path d="M213.5,240.88 L227.25,247.75 L213.5,257.12" stroke-width="1.1" />
<path d="M227.25,247.75 L228.75,248.38" stroke-width="1.1" />
<path d="M213.5,257.12 C207.88,261.5 204.75,267.75 205,274 C205.25,279 207.5,282.75 210,285" stroke-width="1.1" />
<ellipse cx="216.62" cy="270.5" rx="3.9" ry="6.3" transform="rotate(24 216.62 270.5)" stroke-width="1.1"/>
<path d="M214.75,265.88 Q213.25,270.5 216,274" stroke-width="0.9" />
<path d="M216,282.12 L227.25,275.88" stroke-width="1.1" />
<path d="M210,285 L216,282.12" stroke-width="1.1" />
<path d="M212.88,290 L227.25,280.5" stroke-width="1.1" />
<path d="M212.88,290 L214.75,295.25" stroke-width="1.1" />
<path d="M216,282.12 Q217.25,285.88 214.75,288.38" stroke-width="0.9" />
<path d="M194.91,377.12 C200.06,369.62 204.75,367.28 208.03,369.16 C212.25,371.97 210.84,378.06 207.09,382.75" stroke-width="1.1" />
<path d="M197.25,378.53 C201,372.91 204.75,370.56 207.09,371.5" stroke-width="0.9" />
<ellipse cx="204.28" cy="377.59" rx="2.2" ry="3.1" transform="rotate(25 204.28 377.59)" stroke-width="1.1"/>
<ellipse cx="204.28" cy="377.59" rx="1.1" ry="1.7" transform="rotate(25 204.28 377.59)" stroke-width="0.9"/>
<path d="M191.16,375.25 L210.38,386.5 L193.5,404.31 L171.94,396.34 Z" stroke-width="1.1" />
<path d="M185.06,383.69 L203.81,396.81" stroke-width="1.1" />
<path d="M182.72,386.97 L201.94,399.16" stroke-width="1.1" />
<ellipse cx="203.16" cy="397.94" rx="1.4" ry="2.2" transform="rotate(25 203.16 397.94)" stroke-width="1.1"/>
<path d="M210.38,386.5 L217.41,403.38 L201.94,420.25 L196.31,412.75 L193.5,404.31" stroke-width="1.1" />
<path d="M212.25,389.31 L214.12,394.94" stroke-width="0.9" />
<path d="M211.78,398.69 L212.91,400.09" stroke-width="0.9" />
<ellipse cx="205.41" cy="402.91" rx="1.9" ry="2.7" transform="rotate(25 205.41 402.91)" stroke-width="1.1"/>
<ellipse cx="208.22" cy="408.06" rx="1.9" ry="2.7" transform="rotate(25 208.22 408.06)" stroke-width="1.1"/>
<path d="M171.94,396.34 L172.69,400.09 L183.19,409.94 L201.94,420.25" stroke-width="1.1" />
<path d="M193.5,404.31 L196.31,412.75" stroke-width="1.1" />
<path d="M183.19,401.5 L183.19,409.94" stroke-width="1.1" />
<path d="M172.69,400.09 L183.19,401.5" stroke-width="1.1" />
<path d="M197.25,410.88 L200.06,409.94" stroke-width="0.9" />
<path d="M193.97,405.72 L197.25,412.75" stroke-width="0.9" />
<path d="M164.91,409.94 C162.56,414.62 162.56,419.31 166.31,421.38 C170.06,423.06 173.81,420.25 176.16,416.97 C178.5,414.16 180.84,411.81 182.72,409.75" stroke-width="1.1" />
<path d="M163.97,417.91 C165.38,420.25 170.06,421.19 174.75,416.5" stroke-width="0.9" />
<ellipse cx="171.47" cy="413.69" rx="2.3" ry="3.2" transform="rotate(25 171.47 413.69)" stroke-width="1.1"/>
<ellipse cx="171.47" cy="413.69" rx="1.1" ry="1.7" transform="rotate(25 171.47 413.69)" stroke-width="0.9"/>
<path d="M172.69,400.09 L168.19,401.97 L169.12,408.06 L174.75,405.25" stroke-width="1.1" />
<path d="M177.09,401.5 L178.03,409 L174.75,410.88" stroke-width="1.1" />
<path d="M171.94,396.34 L177.09,401.5" stroke-width="1.1" />
<path d="M156,405.25 L173.81,401.31" stroke-width="1.1" />
<path d="M156,407.59 L173.81,403.66" stroke-width="1.1" />
<path d="M156,409.94 L173.81,406" stroke-width="1.1" />
<path d="M164.25,403.38 L164.91,410.88" stroke-width="1.6" />
<path d="M576.33,215.17 Q576.33,212.33 579,213.67 L611,233.17 Q613.33,234.67 613.33,237.33 L613.33,243.5 Q613.33,246.83 610.33,245.5 L578.83,224.67 Q576.33,223 576.33,220.17 Z" stroke-width="1.1" />
<path d="M579.67,217.67 L609.67,235.5 L609.67,242.33 L579.67,223.5 Z" stroke-width="1.1" />
<path d="M576.67,212.67 L599.67,199.33 L605,202" stroke-width="1.1" />
<path d="M605,202 L588.33,211.33 L591.33,214.33 L594.33,216" stroke-width="1.1" />
<path d="M589,212.33 L611.33,200" stroke-width="2" />
<path d="M591.33,214.33 L614.67,201.33 L625,207 L625,211 L628.33,212.67 L635,219.33 L635.67,234.33 L614.67,245.5" stroke-width="1.1" />
<path d="M594.33,216 L603.83,218.5 L604.67,226 L612.17,234.33" stroke-width="1.1" />
<path d="M603.83,218.5 L624.33,207.33" stroke-width="1.1" />
<path d="M605,222 L626.33,211" stroke-width="1.1" />
<path d="M606,226 L628.33,213.33" stroke-width="1.1" />
<path d="M613.33,234.67 L635,220.17" stroke-width="1.1" />
<path d="M611.33,200 L614.67,201.33" stroke-width="1.1" />
<path d="M581.33,228.5 L606.33,241.33" stroke-width="1.1" />
<path d="M544.67,259.33 L583.83,221.5" stroke-width="1.1" />
<path d="M547.5,261.83 L586.17,224.33" stroke-width="1.1" />
<path d="M547.67,261.33 L598,227.67" stroke-width="1.1" />
<path d="M550.5,263.83 L600.33,230.5" stroke-width="1.1" />
<path d="M549.67,264.33 L608.33,233.5" stroke-width="1.1" />
<path d="M552.5,266.83 L610.67,236.33" stroke-width="1.1" />
<path d="M543.33,264.67 C544.94,264.39 550,263.06 553,263 C556,262.94 558.69,263.33 561.33,264.33 C563.97,265.33 566.47,267.56 568.83,269 C571.19,270.44 572.58,271.69 575.5,273 C578.42,274.31 582.58,276.47 586.33,276.83 C590.08,277.19 596.06,275.44 598,275.17" stroke-width="1.1" />
<path d="M544.67,267.67 C546.06,267.56 550.36,266.89 553,267 C555.64,267.11 558,267.28 560.5,268.33 C563,269.39 565.64,271.83 568,273.33 C570.36,274.83 571.61,276.06 574.67,277.33 C577.72,278.61 582.44,280.67 586.33,281 C590.22,281.33 596.06,279.61 598,279.33" stroke-width="1.1" />
<path d="M544,266.17 C545.5,265.97 550.17,264.97 553,265 C555.83,265.03 558.42,265.31 561,266.33 C563.58,267.36 566.14,269.69 568.5,271.17 C570.86,272.64 572.19,273.89 575.17,275.17 C578.14,276.44 582.53,278.5 586.33,278.83 C590.14,279.17 596.06,277.44 598,277.17" stroke-width="0.8" />
<path d="M595.5,269.33 C596.33,263.5 601.33,259.33 606.33,259.33 C611.33,256 617.17,257.67 617.17,263.5 C617.17,269.33 613,276 608,278.5 C603,281 596.33,279.33 595.5,269.33" stroke-width="1.1" />
<path d="M601.33,260.17 C606.33,264.33 607.17,272.67 603.83,279.33" stroke-width="1.1" />
<path d="M605.5,259.33 C610.5,263.5 611.33,271.83 608,278.5" stroke-width="1.1" />
<path d="M609.67,264.33 C611.33,261 614.67,260.17 615.5,264.33" stroke-width="1.1" />
<path d="M609.67,272.67 L614.67,270.17 L616,272.67 L611.33,275.67 Z" stroke-width="0.9" />
<path d="M598,266 L601.33,265.17" stroke-width="0.9" />
<path d="M597.17,272.67 L602.17,276" stroke-width="0.9" />
<text x="208" y="193.7" font-family="'DejaVu Sans', sans-serif" font-size="11.2" fill="#111" stroke="none" >4</text>
<path d="M213.3,196.3 L219.2,231.7" stroke-width="1.1" />
<text x="278.6" y="246.3" font-family="'DejaVu Sans', sans-serif" font-size="11.2" fill="#111" stroke="none" >5</text>
<path d="M279.1,248.4 L262.4,285" stroke-width="1.1" />
<text x="262.5" y="379" font-family="'DejaVu Sans', sans-serif" font-size="11.2" fill="#111" stroke="none" >6</text>
<path d="M262,380.8 L252.2,394.6" stroke-width="1.1" />
<text x="137.2" y="554.8" font-family="'DejaVu Sans', sans-serif" font-size="11.2" fill="#111" stroke="none" >2</text>
<path d="M148.3,550.6 L196.7,552.5" stroke-width="1.1" />
<text x="371" y="756.3" font-family="'DejaVu Sans', sans-serif" font-size="11.2" fill="#111" stroke="none" >3</text>
<path d="M385.5,705 L376.1,744.4" stroke-width="1.1" />
<text x="530.6" y="894.8" font-family="'DejaVu Sans', sans-serif" font-size="11.2" fill="#111" stroke="none" >1</text>
<path d="M530.4,829.5 L534.5,880.3" stroke-width="1.1" />
<text x="63.6" y="993.3" font-family="'Liberation Sans', sans-serif" font-size="13.4" fill="#222" stroke="none" textLength="82.3" lengthAdjust="spacingAndGlyphs">8KJ1100-S170</text>
<path d="M65.1,966.3 L77.4,943.7 L80.8,946.2 L103.75,933.7 L107.8,935.3 L107.8,953.2 L80.8,967 L80.8,973.9 Z" stroke-width="1.5" />
<path d="M80.8,949.9 L106.7,936.4" stroke-width="1.1" />
<path d="M80.8,946.2 L80.8,967" stroke-width="1.1" />
<path d="M68.75,965.9 L79.7,947.3" stroke-width="1" />
<path d="M103.75,933.7 L106.7,936.4" stroke-width="1" />
<text transform="matrix(0.62,-0.32,-0.17,1,81.2,964.6)" x="0" y="0" font-family="'Liberation Sans', sans-serif" font-weight="bold" font-size="17" fill="#000" stroke="#000" stroke-width="0.4">FWD</text>
<g transform="translate(127,124.5) rotate(-12.5)" font-family="'Liberation Serif', serif" font-size="17" fill="none" stroke="#cdcdcd" stroke-width="0.8" stroke-dasharray="0.8 2.2"><text x="-21" y="-9" textLength="42" lengthAdjust="spacingAndGlyphs">vNext</text><text x="-49" y="8" textLength="98" lengthAdjust="spacingAndGlyphs">Technologies</text></g>
<text transform="translate(128.5,125) rotate(10.4)" x="-36.5" y="0" font-family="'Liberation Serif', serif" font-size="8.6" fill="#5c5c5c" stroke="#5c5c5c" stroke-width="0.3" textLength="73" lengthAdjust="spacingAndGlyphs">vNext Technologies</text>
<g transform="translate(384.5,124.5) rotate(-12.5)" font-family="'Liberation Serif', serif" font-size="17" fill="none" stroke="#cdcdcd" stroke-width="0.8" stroke-dasharray="0.8 2.2"><text x="-21" y="-9" textLength="42" lengthAdjust="spacingAndGlyphs">vNext</text><text x="-49" y="8" textLength="98" lengthAdjust="spacingAndGlyphs">Technologies</text></g>
<text transform="translate(386,125) rotate(10.4)" x="-36.5" y="0" font-family="'Liberation Serif', serif" font-size="8.6" fill="#5c5c5c" stroke="#5c5c5c" stroke-width="0.3" textLength="73" lengthAdjust="spacingAndGlyphs">vNext Technologies</text>
<g transform="translate(641.5,124.5) rotate(-12.5)" font-family="'Liberation Serif', serif" font-size="17" fill="none" stroke="#cdcdcd" stroke-width="0.8" stroke-dasharray="0.8 2.2"><text x="-21" y="-9" textLength="42" lengthAdjust="spacingAndGlyphs">vNext</text><text x="-49" y="8" textLength="98" lengthAdjust="spacingAndGlyphs">Technologies</text></g>
<text transform="translate(643,125) rotate(10.4)" x="-36.5" y="0" font-family="'Liberation Serif', serif" font-size="8.6" fill="#5c5c5c" stroke="#5c5c5c" stroke-width="0.3" textLength="73" lengthAdjust="spacingAndGlyphs">vNext Technologies</text>
<g transform="translate(127,382) rotate(-12.5)" font-family="'Liberation Serif', serif" font-size="17" fill="none" stroke="#cdcdcd" stroke-width="0.8" stroke-dasharray="0.8 2.2"><text x="-21" y="-9" textLength="42" lengthAdjust="spacingAndGlyphs">vNext</text><text x="-49" y="8" textLength="98" lengthAdjust="spacingAndGlyphs">Technologies</text></g>
<text transform="translate(128.5,382.5) rotate(10.4)" x="-36.5" y="0" font-family="'Liberation Serif', serif" font-size="8.6" fill="#5c5c5c" stroke="#5c5c5c" stroke-width="0.3" textLength="73" lengthAdjust="spacingAndGlyphs">vNext Technologies</text>
<g transform="translate(384.5,382) rotate(-12.5)" font-family="'Liberation Serif', serif" font-size="17" fill="none" stroke="#cdcdcd" stroke-width="0.8" stroke-dasharray="0.8 2.2"><text x="-21" y="-9" textLength="42" lengthAdjust="spacingAndGlyphs">vNext</text><text x="-49" y="8" textLength="98" lengthAdjust="spacingAndGlyphs">Technologies</text></g>
<text transform="translate(386,382.5) rotate(10.4)" x="-36.5" y="0" font-family="'Liberation Serif', serif" font-size="8.6" fill="#5c5c5c" stroke="#5c5c5c" stroke-width="0.3" textLength="73" lengthAdjust="spacingAndGlyphs">vNext Technologies</text>
<g transform="translate(641.5,382) rotate(-12.5)" font-family="'Liberation Serif', serif" font-size="17" fill="none" stroke="#cdcdcd" stroke-width="0.8" stroke-dasharray="0.8 2.2"><text x="-21" y="-9" textLength="42" lengthAdjust="spacingAndGlyphs">vNext</text><text x="-49" y="8" textLength="98" lengthAdjust="spacingAndGlyphs">Technologies</text></g>
<text transform="translate(643,382.5) rotate(10.4)" x="-36.5" y="0" font-family="'Liberation Serif', serif" font-size="8.6" fill="#5c5c5c" stroke="#5c5c5c" stroke-width="0.3" textLength="73" lengthAdjust="spacingAndGlyphs">vNext Technologies</text>
<g transform="translate(127,639.3) rotate(-12.5)" font-family="'Liberation Serif', serif" font-size="17" fill="none" stroke="#cdcdcd" stroke-width="0.8" stroke-dasharray="0.8 2.2"><text x="-21" y="-9" textLength="42" lengthAdjust="spacingAndGlyphs">vNext</text><text x="-49" y="8" textLength="98" lengthAdjust="spacingAndGlyphs">Technologies</text></g>
<text transform="translate(128.5,639.8) rotate(10.4)" x="-36.5" y="0" font-family="'Liberation Serif', serif" font-size="8.6" fill="#5c5c5c" stroke="#5c5c5c" stroke-width="0.3" textLength="73" lengthAdjust="spacingAndGlyphs">vNext Technologies</text>
<g transform="translate(384.5,639.3) rotate(-12.5)" font-family="'Liberation Serif', serif" font-size="17" fill="none" stroke="#cdcdcd" stroke-width="0.8" stroke-dasharray="0.8 2.2"><text x="-21" y="-9" textLength="42" lengthAdjust="spacingAndGlyphs">vNext</text><text x="-49" y="8" textLength="98" lengthAdjust="spacingAndGlyphs">Technologies</text></g>
<text transform="translate(386,639.8) rotate(10.4)" x="-36.5" y="0" font-family="'Liberation Serif', serif" font-size="8.6" fill="#5c5c5c" stroke="#5c5c5c" stroke-width="0.3" textLength="73" lengthAdjust="spacingAndGlyphs">vNext Technologies</text>
<g transform="translate(641.5,639.3) rotate(-12.5)" font-family="'Liberation Serif', serif" font-size="17" fill="none" stroke="#cdcdcd" stroke-width="0.8" stroke-dasharray="0.8 2.2"><text x="-21" y="-9" textLength="42" lengthAdjust="spacingAndGlyphs">vNext</text><text x="-49" y="8" textLength="98" lengthAdjust="spacingAndGlyphs">Technologies</text></g>
<text transform="translate(643,639.8) rotate(10.4)" x="-36.5" y="0" font-family="'Liberation Serif', serif" font-size="8.6" fill="#5c5c5c" stroke="#5c5c5c" stroke-width="0.3" textLength="73" lengthAdjust="spacingAndGlyphs">vNext Technologies</text>
<g transform="translate(127,896) rotate(-12.5)" font-family="'Liberation Serif', serif" font-size="17" fill="none" stroke="#cdcdcd" stroke-width="0.8" stroke-dasharray="0.8 2.2"><text x="-21" y="-9" textLength="42" lengthAdjust="spacingAndGlyphs">vNext</text><text x="-49" y="8" textLength="98" lengthAdjust="spacingAndGlyphs">Technologies</text></g>
<text transform="translate(128.5,896.5) rotate(10.4)" x="-36.5" y="0" font-family="'Liberation Serif', serif" font-size="8.6" fill="#5c5c5c" stroke="#5c5c5c" stroke-width="0.3" textLength="73" lengthAdjust="spacingAndGlyphs">vNext Technologies</text>
<g transform="translate(384.5,896) rotate(-12.5)" font-family="'Liberation Serif', serif" font-size="17" fill="none" stroke="#cdcdcd" stroke-width="0.8" stroke-dasharray="0.8 2.2"><text x="-21" y="-9" textLength="42" lengthAdjust="spacingAndGlyphs">vNext</text><text x="-49" y="8" textLength="98" lengthAdjust="spacingAndGlyphs">Technologies</text></g>
<text transform="translate(386,896.5) rotate(10.4)" x="-36.5" y="0" font-family="'Liberation Serif', serif" font-size="8.6" fill="#5c5c5c" stroke="#5c5c5c" stroke-width="0.3" textLength="73" lengthAdjust="spacingAndGlyphs">vNext Technologies</text>
<g transform="translate(641.5,896) rotate(-12.5)" font-family="'Liberation Serif', serif" font-size="17" fill="none" stroke="#cdcdcd" stroke-width="0.8" stroke-dasharray="0.8 2.2"><text x="-21" y="-9" textLength="42" lengthAdjust="spacingAndGlyphs">vNext</text><text x="-49" y="8" textLength="98" lengthAdjust="spacingAndGlyphs">Technologies</text></g>
<text transform="translate(643,896.5) rotate(10.4)" x="-36.5" y="0" font-family="'Liberation Serif', serif" font-size="8.6" fill="#5c5c5c" stroke="#5c5c5c" stroke-width="0.3" textLength="73" lengthAdjust="spacingAndGlyphs">vNext Technologies</text>
</svg>
<div id="copy">©2020 Yamaha Motor Corporation, U.S.A. All rights reserved.</div>
</body></html>
